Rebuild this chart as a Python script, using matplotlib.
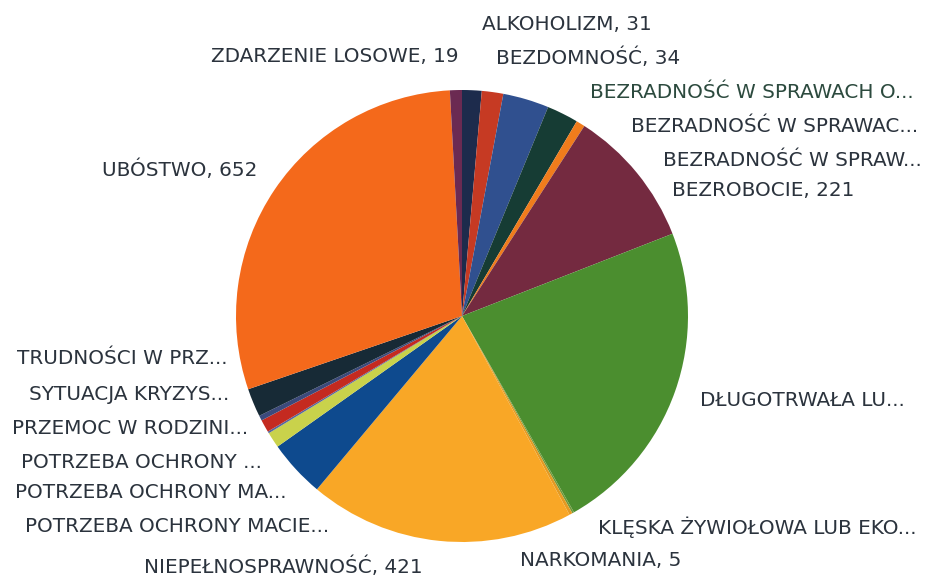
#!/usr/bin/env python3
"""Pie of social assistance reasons (powody przyznania pomocy)."""

import matplotlib.pyplot as plt

W_PX, H_PX = 928, 576

CATEGORIES = [
    "ALKOHOLIZM",
    "BEZDOMNOŚĆ",
    "BEZRADNOŚĆ W SPRAWACH O...",
    "BEZRADNOŚĆ W SPRAWAC...",
    "BEZRADNOŚĆ W SPRAW...",
    "BEZROBOCIE",
    "DŁUGOTRWAŁA LU...",
    "KLĘSKA ŻYWIOŁOWA LUB EKO...",
    "NARKOMANIA",
    "NIEPEŁNOSPRAWNOŚĆ",
    "POTRZEBA OCHRONY MACIE...",
    "POTRZEBA OCHRONY MA...",
    "POTRZEBA OCHRONY ...",
    "PRZEMOC W RODZINI...",
    "SYTUACJA KRYZYS...",
    "TRUDNOŚCI W PRZ...",
    "UBÓSTWO",
    "ZDARZENIE LOSOWE",
]
VALUES = [31, 34, 73, 50, 14, 221, 503, 3, 5, 421, 91, 25, 3, 20, 8, 45, 652, 19]

COLORS = [
    "#1d2b4c", "#c63a23", "#30508f", "#163c34", "#f07c1c", "#742a40",
    "#4b8e2f", "#6f9a3c", "#e49a22", "#f9a726", "#0e4a8e", "#c9d24b",
    "#56689e", "#c42a20", "#3c4a7c", "#172a36", "#f4691b", "#6b2a52",
]

# label centres in pixels (x from left, y from top)
LABEL_POS = [
    (567, 25), (588, 58), (752, 92), (775, 127), (792, 160), (763, 191),
    (802, 401), (757, 527), (601, 560), (283, 567), (177, 527), (151, 493),
    (141, 462), (130, 428), (129, 394), (122, 359), (180, 170), (335, 57),
]

CENTER = (462, 316)
RADIUS = 226
TEXT_COLOR = "#2b333d"


def label_text(name, value):
    if name.endswith("..."):
        return name
    return f"{name}, {value}"


def main():
    fig = plt.figure(figsize=(W_PX / 100, H_PX / 100), dpi=100)
    fig.patch.set_facecolor("white")

    cx, cy = CENTER
    ax = fig.add_axes([
        (cx - RADIUS) / W_PX,
        (H_PX - cy - RADIUS) / H_PX,
        2 * RADIUS / W_PX,
        2 * RADIUS / H_PX,
    ])
    ax.pie(
        VALUES,
        colors=COLORS,
        startangle=90,
        counterclock=False,
        radius=1.0,
        wedgeprops={"linewidth": 0},
    )
    ax.set_xlim(-1, 1)
    ax.set_ylim(-1, 1)
    ax.set_aspect("equal")
    ax.axis("off")

    for name, value, (px, py) in zip(CATEGORIES, VALUES, LABEL_POS):
        color = "#2c4a3e" if name == "BEZRADNOŚĆ W SPRAWACH O..." else TEXT_COLOR
        fig.text(
            px / W_PX,
            1 - py / H_PX,
            label_text(name, value),
            ha="center",
            va="center",
            fontsize=14.4,
            family=["DejaVu Sans"],
            color=color,
        )

    fig.savefig("out.png", dpi=100)
    plt.close(fig)


if __name__ == "__main__":
    main()
